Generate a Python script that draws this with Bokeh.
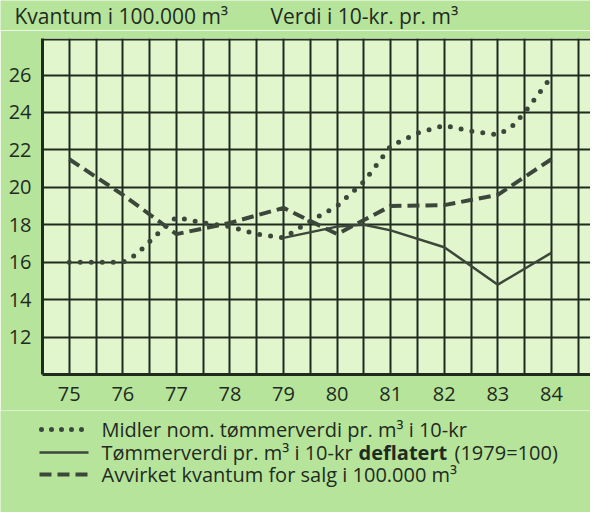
from bokeh.plotting import figure
from bokeh.layouts import column
from bokeh.models import Range1d, FixedTicker
from bokeh.core.properties import value
from bokeh.embed import file_html
from bokeh.resources import INLINE

# ---- data ----
years = [75, 76, 77, 78, 79, 80, 81, 82, 83, 84]
y_ticks = [12, 14, 16, 18, 20, 22, 24, 26]

nom_x = [75, 76, 76.25, 76.5, 76.75, 77, 77.5, 78, 78.5, 79, 79.5, 80, 80.5, 81, 81.5, 82, 82.5, 83, 83.25, 83.5, 84]
nom_v = [16.0, 16.0, 16.4, 17.1, 17.8, 18.4, 18.1, 17.9, 17.5, 17.3, 18.2, 19.0, 20.3, 22.2, 22.9, 23.3, 23.0, 22.8, 23.2, 24.0, 25.9]

defl_x = [79, 80, 80.5, 81, 82, 83, 84]
defl_v = [17.3, 17.9, 18.0, 17.7, 16.8, 14.8, 16.5]

kv_x = [75, 76, 77, 78, 79, 80, 81, 82, 83, 84]
kv_v = [21.5, 19.6, 17.5, 18.1, 18.9, 17.5, 19.0, 19.05, 19.6, 21.5]

title_left = "Kvantum i 100.000 m³"
title_right = "Verdi i 10-kr. pr. m³"
leg1 = "Midler nom. tømmerverdi pr. m³ i 10-kr"
leg2a = "Tømmerverdi pr. m³ i 10-kr"
leg2b = "deflatert"
leg2c = "(1979=100)"
leg3 = "Avvirket kvantum for salg i 100.000 m³"

# ---- style ----
OUTER = "#b6e49b"
INNER = "#e2f6cd"
DARK = "#1f2b1f"
SERIES = "#3b473b"
FONT = "Open Sans"
FS = "20px"
W = 590


def panel(height):
    f = figure(width=W, height=height, x_range=Range1d(0, W), y_range=Range1d(height, 0),
               output_backend="svg", toolbar_location=None, x_axis_type=None, y_axis_type=None,
               min_border=0, min_border_left=0, min_border_right=0, min_border_top=0,
               min_border_bottom=0, outline_line_color=None, frame_align=False,
               background_fill_color=OUTER, border_fill_color=OUTER)
    f.grid.visible = False
    return f


tk = dict(text_font=value(FONT), text_font_size=FS, text_color=DARK, text_baseline="middle")
hk = dict(text_font=value(FONT), text_font_size="21px", text_color=DARK, text_baseline="middle")

# ---- header ----
hdr = panel(30)
hdr.text(x=[14], y=[15], text=[title_left], **hk)
hdr.text(x=[270], y=[15], text=[title_right], **hk)

# ---- main chart ----
p = figure(width=W, height=380, x_range=Range1d(74.5, 84.73), y_range=Range1d(10, 27.95),
           output_backend="svg", toolbar_location=None, frame_align=False,
           min_border_left=42, min_border_right=0, min_border_top=8, min_border_bottom=36,
           background_fill_color=INNER, border_fill_color=OUTER, outline_line_color=None)

p.xaxis.ticker = FixedTicker(ticks=years)
p.yaxis.ticker = FixedTicker(ticks=y_ticks)
for ax in (p.xaxis, p.yaxis):
    ax.axis_line_width = 3
    ax.axis_line_color = DARK
    ax.major_tick_line_color = None
    ax.minor_tick_line_color = None
    ax.major_label_text_font = FONT
    ax.major_label_text_font_size = FS
    ax.major_label_text_color = DARK
p.xaxis.major_label_standoff = 6
p.yaxis.major_label_standoff = 5

p.xgrid.ticker = FixedTicker(ticks=[y + h for y in years for h in (0, 0.5)])
p.ygrid.ticker = FixedTicker(ticks=y_ticks + [27.88])
for g in (p.xgrid, p.ygrid):
    g.grid_line_color = DARK
    g.grid_line_width = 2
    g.grid_line_alpha = 1

p.line(kv_x, kv_v, line_width=4, line_dash="12 6", color=SERIES)
p.line(defl_x, defl_v, line_width=2.5, color=SERIES)
p.line(nom_x, nom_v, line_width=5, line_dash="0 11", line_cap="round", color=SERIES)

# ---- legend ----
leg = panel(102)
leg.line([41, 87], [19, 19], line_width=5, line_dash="0 10", line_cap="round", color=SERIES)
leg.line([39, 88], [42, 42], line_width=2.5, color=SERIES)
leg.line([39, 88], [64, 64], line_width=4, line_dash="12 6", color=SERIES)
leg.text(x=[101], y=[19], text=[leg1], **tk)
leg.text(x=[101], y=[42], text=[leg2a], **tk)
leg.text(x=[358], y=[42], text=[leg2b], text_font_style="bold", **tk)
leg.text(x=[454], y=[42], text=[leg2c], **tk)
leg.text(x=[101], y=[64], text=[leg3], **tk)

layout = column(hdr, p, leg, spacing=0)
open("out.html", "w").write(file_html(layout, INLINE))
